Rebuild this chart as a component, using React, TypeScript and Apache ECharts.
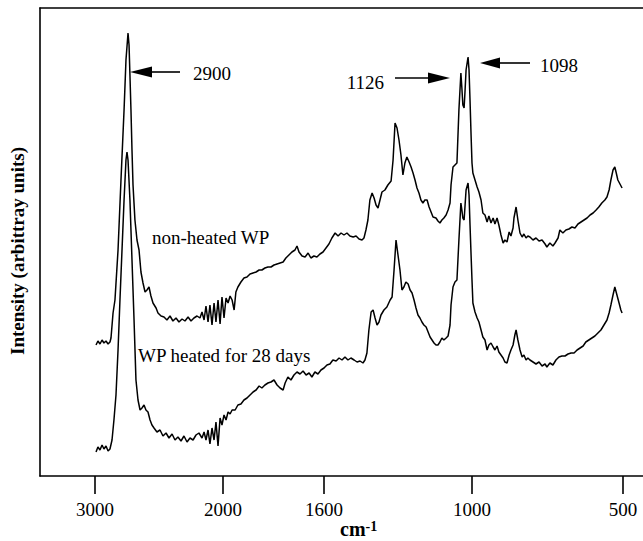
import React, { useEffect, useRef } from "react";
import * as echarts from "echarts";

// Printed tick labels of the wavenumber axis (cm-1)
const TICK_LABELS = [3000, 2000, 1600, 1000, 500];

// Spectrum of non-heated WP: [wavenumber cm-1, intensity (arbitrary units)]
const NON_HEATED: [number, number][] = [
  [2992, 131], [2977, 135], [2961, 132], [2945, 136], [2930, 133], [2914, 135], [2898, 132], [2883, 134],
  [2875, 138], [2859, 163], [2844, 176], [2820, 226], [2797, 296], [2773, 366], [2758, 416], [2742, 443],
  [2734, 431], [2727, 401], [2719, 366], [2711, 326], [2703, 291], [2688, 256], [2672, 236], [2656, 226],
  [2641, 204], [2625, 193], [2609, 184], [2594, 186], [2578, 189], [2563, 180], [2547, 173], [2523, 168],
  [2508, 163], [2484, 160], [2461, 159], [2438, 156], [2414, 160], [2391, 155], [2367, 158], [2344, 154],
  [2320, 157], [2297, 155], [2273, 159], [2250, 155], [2227, 158], [2203, 160], [2180, 158], [2164, 164],
  [2148, 156], [2133, 170], [2117, 154], [2102, 171], [2086, 151], [2070, 173], [2055, 154], [2039, 176],
  [2023, 152], [2008, 179], [1996, 158], [1988, 178], [1980, 173], [1972, 180], [1964, 176], [1956, 166],
  [1949, 184], [1941, 189], [1929, 194], [1917, 198], [1905, 199], [1893, 202], [1881, 203], [1869, 204],
  [1857, 206], [1846, 206], [1834, 208], [1822, 209], [1810, 209], [1798, 211], [1786, 212], [1774, 213],
  [1762, 214], [1751, 218], [1739, 221], [1727, 224], [1715, 226], [1707, 230], [1699, 224], [1687, 220],
  [1675, 219], [1663, 223], [1652, 218], [1640, 220], [1628, 219], [1616, 222], [1604, 224], [1592, 228],
  [1580, 232], [1568, 238], [1555, 243], [1543, 240], [1531, 243], [1519, 241], [1507, 243], [1495, 240],
  [1482, 239], [1470, 240], [1458, 237], [1446, 236], [1438, 238], [1430, 246], [1422, 256], [1414, 276],
  [1405, 283], [1397, 278], [1389, 271], [1381, 268], [1373, 276], [1365, 284], [1353, 286], [1341, 291],
  [1328, 295], [1320, 316], [1312, 353], [1304, 348], [1296, 336], [1288, 321], [1280, 301], [1272, 313],
  [1264, 319], [1255, 314], [1247, 309], [1239, 303], [1231, 296], [1223, 288], [1215, 283], [1207, 276],
  [1199, 273], [1191, 276], [1182, 276], [1174, 269], [1166, 264], [1158, 259], [1146, 258], [1138, 255],
  [1130, 253], [1122, 256], [1114, 258], [1105, 261], [1097, 266], [1089, 273], [1085, 291], [1077, 309],
  [1069, 311], [1061, 313], [1053, 366], [1045, 403], [1041, 388], [1037, 371], [1032, 368], [1028, 386],
  [1024, 406], [1016, 419], [1012, 406], [1008, 376], [1004, 343], [1000, 313], [997, 303], [990, 296],
  [983, 289], [977, 284], [970, 276], [964, 263], [957, 261], [950, 254], [944, 260], [937, 253],
  [930, 258], [924, 252], [917, 258], [911, 251], [904, 241], [897, 233], [891, 236], [884, 234],
  [877, 244], [871, 240], [864, 248], [861, 258], [854, 269], [848, 256], [841, 243], [834, 239],
  [828, 242], [821, 238], [815, 240], [808, 239], [798, 236], [788, 238], [778, 235], [768, 236],
  [758, 232], [752, 229], [742, 233], [732, 230], [725, 233], [715, 238], [709, 246], [699, 243],
  [689, 246], [679, 247], [669, 249], [659, 248], [649, 252], [639, 254], [629, 256], [619, 258],
  [609, 261], [599, 263], [589, 266], [580, 269], [570, 273], [560, 276], [553, 279], [546, 286],
  [540, 296], [533, 306], [527, 309], [523, 304], [517, 296], [510, 292], [503, 288],
];

// Spectrum of WP heated for 28 days: [wavenumber cm-1, intensity (arbitrary units)]
const HEATED_28_DAYS: [number, number][] = [
  [2992, 24], [2977, 29], [2961, 26], [2945, 31], [2930, 27], [2914, 30], [2898, 25], [2883, 27],
  [2867, 36], [2852, 56], [2836, 81], [2820, 126], [2805, 176], [2789, 226], [2773, 276], [2758, 316],
  [2750, 324], [2742, 316], [2727, 276], [2711, 216], [2695, 156], [2680, 96], [2664, 76], [2648, 66],
  [2633, 68], [2617, 71], [2602, 66], [2586, 64], [2570, 56], [2555, 51], [2539, 48], [2516, 44],
  [2492, 46], [2469, 40], [2445, 43], [2422, 38], [2398, 42], [2375, 36], [2352, 39], [2328, 35],
  [2305, 40], [2281, 34], [2258, 38], [2234, 36], [2211, 41], [2188, 43], [2164, 38], [2148, 44],
  [2133, 36], [2117, 46], [2102, 32], [2086, 48], [2070, 36], [2055, 54], [2039, 30], [2023, 58],
  [2008, 51], [1996, 61], [1988, 56], [1980, 64], [1972, 62], [1964, 66], [1952, 66], [1941, 71],
  [1929, 72], [1917, 76], [1905, 78], [1893, 81], [1881, 84], [1869, 86], [1857, 90], [1846, 88],
  [1834, 91], [1822, 93], [1810, 94], [1798, 96], [1786, 91], [1774, 88], [1762, 86], [1754, 93],
  [1743, 99], [1731, 96], [1719, 101], [1707, 104], [1695, 102], [1683, 105], [1671, 101], [1659, 103],
  [1648, 99], [1636, 104], [1624, 102], [1612, 106], [1600, 108], [1588, 111], [1576, 112], [1564, 116],
  [1551, 115], [1539, 118], [1527, 116], [1515, 119], [1503, 116], [1491, 118], [1478, 116], [1466, 114],
  [1454, 115], [1442, 113], [1434, 116], [1426, 123], [1418, 146], [1409, 164], [1401, 166], [1393, 158],
  [1385, 151], [1377, 154], [1369, 161], [1357, 166], [1345, 169], [1332, 176], [1324, 179], [1316, 206],
  [1308, 236], [1300, 221], [1292, 206], [1284, 186], [1276, 189], [1268, 194], [1259, 192], [1251, 186],
  [1243, 183], [1235, 176], [1227, 168], [1219, 161], [1211, 158], [1203, 154], [1195, 151], [1186, 149],
  [1178, 144], [1170, 139], [1162, 136], [1154, 133], [1146, 131], [1138, 131], [1130, 134], [1122, 138],
  [1114, 136], [1105, 138], [1097, 140], [1089, 151], [1085, 171], [1077, 189], [1069, 194], [1061, 196],
  [1053, 236], [1045, 273], [1041, 266], [1037, 258], [1032, 256], [1028, 271], [1024, 286], [1016, 293],
  [1012, 281], [1008, 251], [1004, 223], [1000, 196], [997, 173], [990, 164], [983, 158], [977, 154],
  [970, 146], [964, 139], [957, 136], [950, 126], [944, 131], [937, 133], [930, 129], [924, 126],
  [917, 130], [911, 124], [904, 121], [897, 118], [891, 114], [884, 113], [877, 121], [871, 126],
  [864, 131], [858, 141], [854, 146], [848, 136], [841, 126], [834, 119], [828, 121], [821, 116],
  [815, 118], [808, 116], [798, 114], [788, 112], [778, 114], [768, 110], [758, 112], [752, 109],
  [742, 113], [732, 111], [722, 116], [712, 119], [702, 120], [692, 120], [682, 122], [672, 123],
  [662, 123], [652, 126], [642, 128], [632, 130], [623, 134], [613, 136], [603, 138], [593, 140],
  [583, 143], [573, 146], [563, 151], [553, 156], [546, 163], [540, 171], [533, 181], [527, 189],
  [520, 181], [513, 173], [507, 166], [503, 163],
];

// Annotated peaks
const PEAK_LABELS = ["2900", "1126", "1098"];
const CURVE_LABELS = ["non-heated WP", "WP heated for 28 days"];

// Layout: the printed axis is not linear; fractional positions of the printed ticks along the axis
const TICK_FRACTIONS = [0.0912, 0.3035, 0.471, 0.7164, 0.9668];

function warp(w: number): number {
  const t = TICK_LABELS;
  const f = TICK_FRACTIONS;
  let i = 0;
  for (i = 0; i < t.length - 2; i++) {
    if (w >= t[i + 1]) break;
  }
  return f[i] + ((w - t[i]) * (f[i + 1] - f[i])) / (t[i + 1] - t[i]);
}

const SERIF = '"Liberation Serif", "Times New Roman", serif';
const BLACK = "#000";

function arrow(tipX: number, y: number, dir: 1 | -1, headLen: number, tailX: number) {
  const baseX = tipX + dir * headLen;
  return [
    {
      type: "polygon",
      shape: { points: [[tipX, y], [baseX, y - 5.5], [baseX, y + 5.5]] },
      style: { fill: BLACK },
    },
    {
      type: "line",
      shape: { x1: baseX, y1: y, x2: tailX, y2: y },
      style: { stroke: BLACK, lineWidth: 1.6 },
    },
  ];
}

export default function App() {
  const ref = useRef<HTMLDivElement>(null);
  useEffect(() => {
    if (!ref.current) return;
    const chart = echarts.init(ref.current, null, { renderer: "svg" });
    const labelFor = (v: number) => {
      let best = 0;
      for (let i = 1; i < TICK_FRACTIONS.length; i++) {
        if (Math.abs(TICK_FRACTIONS[i] - v) < Math.abs(TICK_FRACTIONS[best] - v)) best = i;
      }
      return String(TICK_LABELS[best]);
    };
    const lineAxis = { show: true, onZero: false, lineStyle: { color: BLACK, width: 1.6 } };
    chart.setOption({
      animation: false,
      backgroundColor: "#fff",
      grid: { left: 40, top: 8, right: 0, bottom: 65, containLabel: false },
      xAxis: [
        {
          type: "value",
          position: "bottom",
          min: 0,
          max: 1,
          axisLine: lineAxis,
          axisTick: {
            show: true,
            inside: false,
            length: 18,
            customValues: TICK_FRACTIONS,
            lineStyle: { color: BLACK, width: 1.6 },
          },
          axisLabel: {
            show: true,
            customValues: TICK_FRACTIONS,
            formatter: (v: number) => labelFor(v),
            margin: 24,
            color: BLACK,
            fontFamily: SERIF,
            fontSize: 19,
          },
          splitLine: { show: false },
        },
        {
          type: "value",
          position: "top",
          min: 0,
          max: 1,
          axisLine: lineAxis,
          axisTick: { show: false },
          axisLabel: { show: false },
          splitLine: { show: false },
        },
      ],
      yAxis: {
        type: "value",
        min: 0,
        max: 468,
        axisLine: lineAxis,
        axisTick: { show: false },
        axisLabel: { show: false },
        splitLine: { show: false },
      },
      series: [
        {
          name: CURVE_LABELS[0],
          type: "line",
          data: NON_HEATED.map(([w, v]) => [warp(w), v]),
          showSymbol: false,
          lineStyle: { color: BLACK, width: 1.5 },
        },
        {
          name: CURVE_LABELS[1],
          type: "line",
          data: HEATED_28_DAYS.map(([w, v]) => [warp(w), v]),
          showSymbol: false,
          lineStyle: { color: BLACK, width: 1.5 },
        },
      ],
      graphic: [
        {
          type: "text",
          x: 17,
          y: 251,
          rotation: Math.PI / 2,
          style: {
            text: "Intensity (arbittray units)",
            font: `bold 19px ${SERIF}`,
            fill: BLACK,
            align: "center",
            verticalAlign: "middle",
          },
        },
        {
          type: "text",
          x: 340,
          y: 529,
          style: {
            text: "{a|cm}{b|-1}",
            align: "left",
            verticalAlign: "middle",
            rich: {
              a: { fontFamily: SERIF, fontWeight: "bold", fontSize: 20, fill: BLACK, verticalAlign: "bottom" },
              b: { fontFamily: SERIF, fontWeight: "bold", fontSize: 14, fill: BLACK, verticalAlign: "top" },
            },
          },
        },
        ...arrow(130, 72, 1, 22, 180),
        {
          type: "text",
          x: 193,
          y: 73,
          style: { text: PEAK_LABELS[0], font: `19px ${SERIF}`, fill: BLACK, align: "left", verticalAlign: "middle" },
        },
        ...arrow(450, 78, -1, 22, 395),
        {
          type: "text",
          x: 384,
          y: 82,
          style: { text: PEAK_LABELS[1], font: `19px ${SERIF}`, fill: BLACK, align: "right", verticalAlign: "middle" },
        },
        ...arrow(480, 63, 1, 20, 530),
        {
          type: "text",
          x: 540,
          y: 65,
          style: { text: PEAK_LABELS[2], font: `19px ${SERIF}`, fill: BLACK, align: "left", verticalAlign: "middle" },
        },
        {
          type: "text",
          x: 152,
          y: 237,
          style: { text: CURVE_LABELS[0], font: `19px ${SERIF}`, fill: BLACK, align: "left", verticalAlign: "middle" },
        },
        {
          type: "text",
          x: 138,
          y: 355,
          style: { text: CURVE_LABELS[1], font: `19px ${SERIF}`, fill: BLACK, align: "left", verticalAlign: "middle" },
        },
      ],
    });
    return () => chart.dispose();
  }, []);
  return (
    <div
      ref={ref}
      style={{ position: "fixed", left: 0, top: 0, width: 643, height: 541, background: "#fff" }}
    />
  );
}
